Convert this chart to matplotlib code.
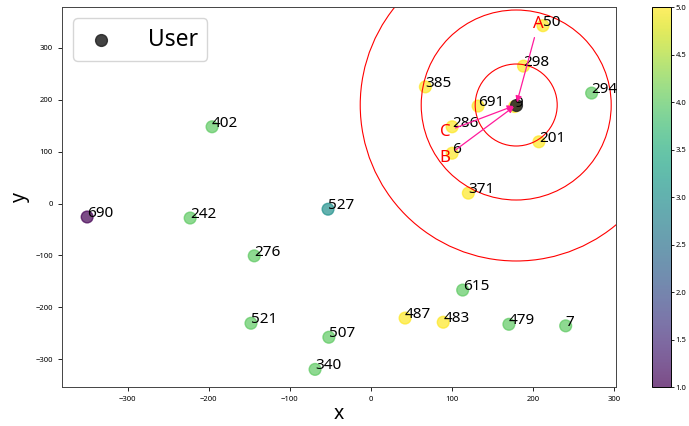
import matplotlib
matplotlib.use('Agg')
import matplotlib.pyplot as plt

plt.rcParams['font.family'] = ['Noto Sans', 'DejaVu Sans']

# point ids, positions and scores
ids = ['690', '242', '402', '527', '276', '521', '507', '340', '487', '483', '615',
       '479', '7', '50', '298', '385', '294', '691', '9', '286', '6', '201', '371']
xs = [-350, -223, -196, -53, -144, -148, -52, -69, 42, 89, 113,
      170, 240, 212, 188, 67, 272, 132, 177, 100, 100, 207, 120]
ys = [-26, -28, 148, -11, -101, -231, -258, -320, -221, -229, -167,
      -233, -236, 343, 265, 225, 213, 188, 187, 148, 97, 119, 20]
scores = [1, 4, 4, 3, 4, 4, 4, 4, 5, 5, 4,
          4, 4, 5, 5, 5, 4, 5, 5, 5, 5, 5, 5]

user_x, user_y = 179, 190
ring_sizes = [3485, 18714, 50450]

# arrow labels (A, B, C) and where they sit
arrow_labels = ['A', 'B', 'C']
arrow_x = [206, 91, 91]
arrow_y = [346, 88, 138]

fig = plt.figure(figsize=(6.89, 4.26), dpi=100)
ax = fig.add_axes([0.090, 0.0915, 0.804, 0.892])
cax = fig.add_axes([0.946, 0.0915, 0.0276, 0.892])

sc = ax.scatter(xs, ys, c=scores, cmap='viridis', vmin=1, vmax=5, s=72, alpha=0.7)
for i, name in enumerate(ids):
    ax.text(xs[i], ys[i], name, fontsize=11)

ax.scatter([user_x], [user_y], color='#222222', s=72, alpha=0.85, label='User')

# rings around the user
ax.scatter([user_x] * len(ring_sizes), [user_y] * len(ring_sizes), s=ring_sizes,
           facecolors='none', edgecolors='red', linewidths=0.8)

for i, lab in enumerate(arrow_labels):
    ax.annotate(lab, xy=(user_x, user_y), xytext=(arrow_x[i], arrow_y[i]),
                color='red', fontsize=12, ha='center', va='center',
                arrowprops=dict(arrowstyle='-|>', color='#ff1a9c', lw=0.9,
                                mutation_scale=9))

ax.set_xlim(-381, 302)
ax.set_ylim(-354, 379)
ax.set_xlabel('x', fontsize=14, labelpad=1)
ax.set_ylabel('y', fontsize=14)
ax.tick_params(labelsize=5.5, length=3, width=0.6)
for sp in ax.spines.values():
    sp.set_linewidth(0.7)
    sp.set_color('#444444')

ax.legend(loc='upper left', fontsize=16.5, handlelength=1.6, handletextpad=1.25)

cb = fig.colorbar(sc, cax=cax)
cb.ax.tick_params(labelsize=5.5, length=2, width=0.6, pad=1.5)
cb.outline.set_linewidth(0.7)

plt.savefig('out.png', dpi=100)
